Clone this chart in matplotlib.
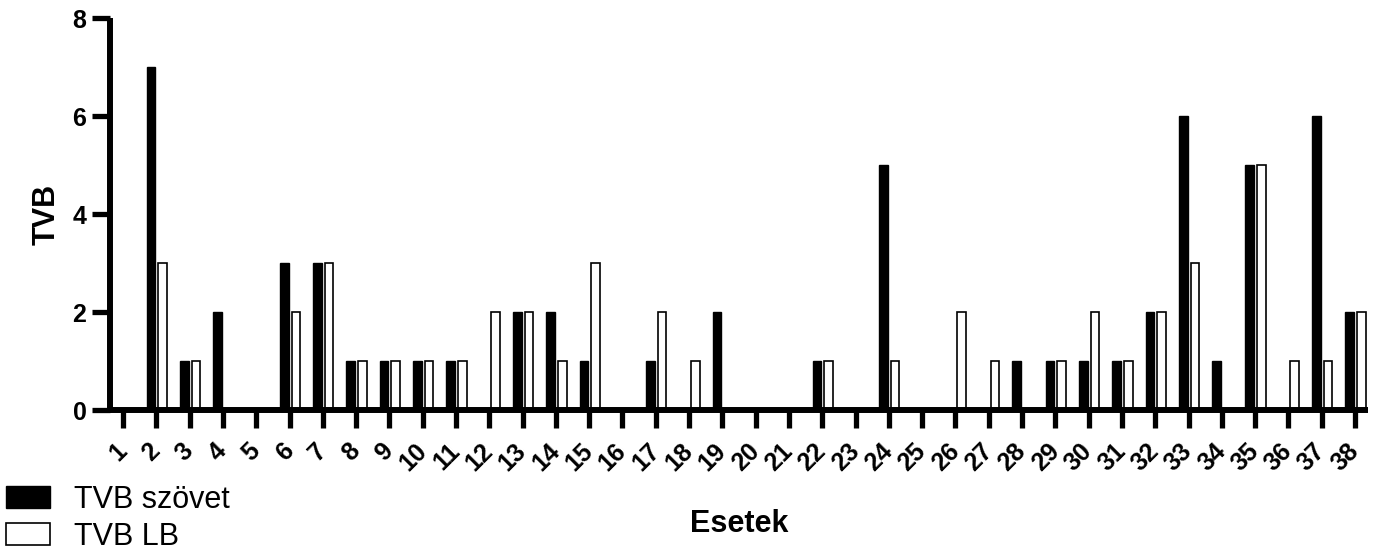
import numpy as np
import matplotlib.pyplot as plt
import matplotlib.transforms as mtransforms

plt.rcParams['font.family'] = ['Liberation Sans', 'DejaVu Sans']

# esetek (cases) and values
cases = np.arange(1, 39)
tvb_szovet = [0, 7, 1, 2, 0, 3, 3, 1, 1, 1, 1, 0, 2, 2, 1, 0, 1, 0, 2, 0,
              0, 1, 0, 5, 0, 0, 0, 1, 1, 1, 1, 2, 6, 1, 5, 0, 6, 2]
tvb_lb = [0, 3, 1, 0, 0, 2, 3, 1, 1, 1, 1, 2, 2, 1, 3, 0, 2, 1, 0, 0,
          0, 1, 0, 1, 0, 2, 1, 0, 1, 2, 1, 2, 3, 0, 5, 1, 1, 2]

fig = plt.figure(figsize=(13.79, 5.54), dpi=100)
ax = fig.add_axes([0.0798, 0.2599, 0.9122, 0.7076])

w = 0.26
ax.bar(cases - 0.16, tvb_szovet, width=w, color='black', edgecolor='black',
       linewidth=1.0, label='TVB szövet')
ax.bar(cases + 0.19, tvb_lb, width=w, color='white', edgecolor='black',
       linewidth=1.2, label='TVB LB')

ax.set_xlim(0.61, 38.39)
ax.set_ylim(0, 8)
ax.set_yticks([0, 2, 4, 6, 8])
ax.set_xticks(cases)
ax.set_xticklabels([str(c) for c in cases], rotation=45, ha='right', va='center',
                   rotation_mode='anchor', fontsize=18, fontweight='bold')
shift = mtransforms.ScaledTranslation(3 / 100, 0, fig.dpi_scale_trans)
for lab in ax.get_xticklabels():
    lab.set_transform(lab.get_transform() + shift)
for lab in ax.get_yticklabels():
    lab.set_fontsize(18)
    lab.set_fontweight('bold')

for s in ['top', 'right']:
    ax.spines[s].set_visible(False)
for s in ['left', 'bottom']:
    ax.spines[s].set_linewidth(4.3)
    ax.spines[s].set_capstyle('butt')
ax.tick_params(axis='both', width=3.8, length=13, pad=4)
ax.tick_params(axis='x', pad=14)

ax.set_ylabel('TVB', fontsize=22, fontweight='bold', labelpad=8)
ax.set_xlabel('Esetek', fontsize=22, fontweight='bold', labelpad=24)

fig.legend(loc='upper left', bbox_to_anchor=(0.004, 1 - 485 / 554),
           frameon=False, fontsize=22, handlelength=1.44, handleheight=0.72,
           handletextpad=0.8, labelspacing=0.22, borderpad=0, borderaxespad=0)

plt.savefig('out.png', dpi=100)
